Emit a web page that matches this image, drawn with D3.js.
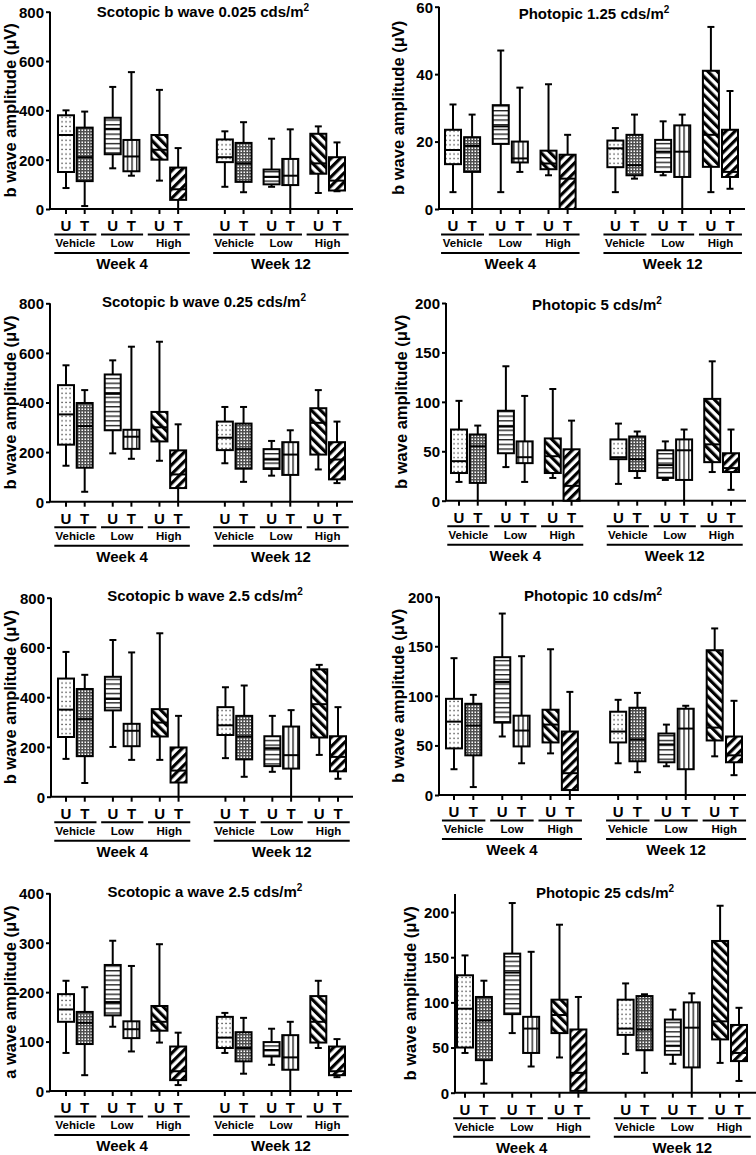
<!DOCTYPE html>
<html><head><meta charset="utf-8">
<script src="https://cdn.jsdelivr.net/npm/d3@7"></script>
<style>
body{margin:0;background:#fff}
svg{display:block}
text{font-family:"Liberation Sans",Arial,sans-serif;font-weight:bold;fill:#000}
</style>
</head><body>
<svg id="chart" width="756" height="1155"></svg>
<script>
// ---------- categories ----------
const weeks = ["Week 4", "Week 12"];
const groups = ["Vehicle", "Low", "High"];
const treatments = ["U", "T"];

// ---------- panel titles / axis ----------
const titles = [
  "Scotopic b wave 0.025 cds/m", "Photopic 1.25 cds/m",
  "Scotopic b wave 0.25 cds/m", "Photopic 5 cds/m",
  "Scotopic b wave 2.5 cds/m", "Photopic 10 cds/m",
  "Scotopic a wave 2.5 cds/m", "Photopic 25 cds/m"
];
const yLabels = [
  "b wave amplitude (\u03bcV)", "b wave amplitude (\u03bcV)",
  "b wave amplitude (\u03bcV)", "b wave amplitude (\u03bcV)",
  "b wave amplitude (\u03bcV)", "b wave amplitude (\u03bcV)",
  "a wave amplitude (\u03bcV)", "b wave amplitude (\u03bcV)"
];
const yMaxes = [800, 60, 800, 200, 800, 200, 400, 220];
const yTicks = [
  [0, 200, 400, 600, 800], [0, 20, 40, 60],
  [0, 200, 400, 600, 800], [0, 50, 100, 150, 200],
  [0, 200, 400, 600, 800], [0, 50, 100, 150, 200],
  [0, 100, 200, 300, 400], [0, 50, 100, 150, 200]
];

// ---------- box statistics: [min, q1, median, q3, max] ----------
// order: W4 Veh U, W4 Veh T, W4 Low U, W4 Low T, W4 High U, W4 High T, then same for W12
const scotopicB0025 = [
  [85,150,300,380,400],[12,113,210,330,395],[165,222,325,370,495],[135,153,213,280,555],
  [115,200,240,300,483],[0,37,80,168,247],
  [90,190,210,282,315],[68,110,185,268,352],[90,100,130,160,285],[0,97,135,203,323],
  [65,143,185,305,335],[72,75,115,210,270]
];
const photopic125 = [
  [5,13.3,17.5,23.5,31],[0,11,18.7,21.3,28],[5,19.3,24.5,30.8,47],[11,13.8,15,20,36],
  [10,11.8,13.5,17.3,37],[0,0,9,16.1,22],
  [5,12.4,18,20.3,24],[9,10,13,22,28],[10,11,17,20.5,26],[0,9.5,17,24.8,28],
  [5,12.5,22,41,54],[6,9.5,11,23.5,35]
];
const scotopicB025 = [
  [145,230,352,470,550],[40,137,305,398,450],[195,288,435,513,570],[173,213,262,290,625],
  [165,243,300,362,645],[0,55,110,207,312],
  [155,208,258,323,382],[80,133,212,315,382],[105,132,170,212,245],[0,108,190,240,288],
  [130,190,318,377,450],[75,90,170,240,323]
];
const photopic5 = [
  [19,28,40,72,101],[0,18,55,67,76],[34,48,75,91,136],[19,38,44,60,106],
  [23,28,45,63,113],[0,0,15,52,81],
  [17,42,44,62,78],[23,30,42,65,70],[21,23,36,51,60],[0,21,51,62,72],
  [29,39,57,103,141],[11,29,33,48,72]
];
const scotopicB25 = [
  [152,240,350,475,582],[55,163,312,433,490],[200,347,393,482,630],[148,203,265,293,580],
  [148,242,298,352,657],[0,57,105,198,325],
  [155,248,287,360,440],[80,150,242,325,447],[100,123,195,243,325],[0,113,167,282,348],
  [168,238,372,512,530],[72,102,160,243,360]
];
const photopic10 = [
  [26,47,74,97,138],[8,40,70,92,101],[59,73,114,139,183],[32,49,65,80,140],
  [42,53,71,86,147],[0,5,22,64,104],
  [32,53,64,84,96],[23,34,56,88,103],[29,33,51,62,71],[0,26,67,87,90],
  [39,55,68,146,168],[20,33,40,59,95]
];
const scotopicA25 = [
  [77,140,165,196,223],[32,95,138,160,210],[130,153,180,255,304],[80,107,125,141,253],
  [98,122,140,172,297],[12,22,40,90,118],
  [77,87,108,150,158],[35,60,87,119,148],[53,70,83,99,126],[0,43,68,113,140],
  [87,98,140,192,223],[28,32,40,90,105]
];
const photopic25 = [
  [44,50,93,130,152],[10,36,80,106,124],[66,87,133,154,210],[29,44,71,84,156],
  [39,66,86,103,186],[0,2,22,70,106],
  [43,64,71,103,121],[22,47,70,107,109],[32,42,52,81,92],[0,28,72,100,110],
  [33,59,79,168,207],[13,35,44,75,94]
];
const panelStats = [scotopicB0025, photopic125, scotopicB025, photopic5,
                    scotopicB25, photopic10, scotopicA25, photopic25];

// slot positions of the 12 boxes along the x axis (in slot units)
const slots = [0, 2, 5, 7, 10, 12, 17, 19, 22, 24, 27, 29];

// ---------- layout (pixels) ----------
const layout = [
  {axisX:50,  x0:66,  x1:337, yTop:11.7,  yZero:209,   xEnd:353, tx:203, ty:17,    lx:16},
  {axisX:439, x0:453, x1:730, yTop:6.7,   yZero:209,   xEnd:745, tx:594, ty:19,    lx:404},
  {axisX:50,  x0:66,  x1:337, yTop:303.3, yZero:501.7, xEnd:353, tx:204, ty:307,   lx:16},
  {axisX:446, x0:459, x1:731, yTop:303,   yZero:500.7, xEnd:746, tx:597, ty:310,   lx:407},
  {axisX:51,  x0:66,  x1:338, yTop:597.7, yZero:796.7, xEnd:353, tx:205, ty:600.7, lx:16},
  {axisX:439, x0:454, x1:734, yTop:596.7, yZero:795,   xEnd:746, tx:593, ty:600.7, lx:404},
  {axisX:50,  x0:66,  x1:337, yTop:893.3, yZero:1091,  xEnd:352, tx:205, ty:896.7, lx:16},
  {axisX:455, x0:465, x1:739, yTop:894,   yZero:1092.7,xEnd:756, tx:605, ty:898,   lx:416}
];

const svg = d3.select("#chart");
const defs = svg.append("defs");

// ---------- fill patterns ----------
// sparse dots
let p = defs.append("pattern").attr("id","dots").attr("patternUnits","userSpaceOnUse")
  .attr("width",4).attr("height",4.6);
p.append("rect").attr("x",1.4).attr("y",1.6).attr("width",1.3).attr("height",1.3).attr("fill","#333");
// dense checker
p = defs.append("pattern").attr("id","checker").attr("patternUnits","userSpaceOnUse")
  .attr("width",3).attr("height",3);
p.append("rect").attr("width",3).attr("height",3).attr("fill","#505050");
p.append("rect").attr("x",0.5).attr("y",0.5).attr("width",1.5).attr("height",1.5).attr("fill","#fff");
// horizontal lines
p = defs.append("pattern").attr("id","hlines").attr("patternUnits","userSpaceOnUse")
  .attr("width",10).attr("height",4.7);
p.append("rect").attr("x",0).attr("y",2).attr("width",10).attr("height",1.2).attr("fill","#000");
// vertical lines
p = defs.append("pattern").attr("id","vlines").attr("patternUnits","userSpaceOnUse")
  .attr("width",4.6).attr("height",10).attr("x",0.7);
p.append("rect").attr("x",2).attr("y",0).attr("width",1.2).attr("height",10).attr("fill","#000");
// backslash stripes
p = defs.append("pattern").attr("id","bslash").attr("patternUnits","userSpaceOnUse")
  .attr("width",6.5).attr("height",20).attr("patternTransform","rotate(-45)");
p.append("rect").attr("x",0).attr("y",0).attr("width",3.2).attr("height",20).attr("fill","#000");
// forward-slash stripes
p = defs.append("pattern").attr("id","fslash").attr("patternUnits","userSpaceOnUse")
  .attr("width",6.5).attr("height",20).attr("patternTransform","rotate(45)");
p.append("rect").attr("x",0).attr("y",0).attr("width",3.2).attr("height",20).attr("fill","#000");

const patternIds = [["dots","checker"],["hlines","vlines"],["bslash","fslash"]];

const BOX_W = 16, CAP_W = 7, SW = 2;

panelStats.forEach((stats, pi) => {
  const L = layout[pi];
  const g = svg.append("g");
  const x = d3.scaleLinear().domain([0, 29]).range([L.x0, L.x1]);
  const y = d3.scaleLinear().domain([0, yMaxes[pi]]).range([L.yZero, L.yTop]);

  // Y axis
  const yAxis = d3.axisLeft(y).tickValues(yTicks[pi]).tickSize(4).tickPadding(2).tickFormat(d3.format("d"));
  const ya = g.append("g").attr("transform", `translate(${L.axisX},0)`).call(yAxis);
  ya.select(".domain").attr("stroke","#000").attr("stroke-width",SW)
    .attr("d", `M0,${L.yZero}V${L.yTop}`);
  ya.selectAll(".tick line").attr("stroke","#000").attr("stroke-width",SW);
  ya.selectAll(".tick text").attr("font-size",15).attr("font-family",'"Liberation Sans",Arial,sans-serif')
    .attr("font-weight","bold").attr("fill","#000").attr("dy","0.36em");

  // X axis
  g.append("line").attr("x1",L.axisX - 1).attr("x2",L.xEnd).attr("y1",L.yZero).attr("y2",L.yZero)
    .attr("stroke","#000").attr("stroke-width",SW);
  g.selectAll(".xt").data(slots).join("line")
    .attr("x1",d=>x(d)).attr("x2",d=>x(d)).attr("y1",L.yZero).attr("y2",L.yZero+5)
    .attr("stroke","#000").attr("stroke-width",SW);

  // boxes
  const boxes = g.selectAll(".box").data(stats).join("g").attr("class","box");
  boxes.each(function(s, i){
    const bg = d3.select(this);
    const cx = x(slots[i]);
    const pat = patternIds[Math.floor(i/2) % 3][i % 2];
    const [mn, q1, md, q3, mx] = s;
    // whiskers
    bg.append("line").attr("x1",cx).attr("x2",cx).attr("y1",y(q3)).attr("y2",y(mx))
      .attr("stroke","#000").attr("stroke-width",SW);
    bg.append("line").attr("x1",cx).attr("x2",cx).attr("y1",y(q1)).attr("y2",y(mn))
      .attr("stroke","#000").attr("stroke-width",SW);
    bg.append("line").attr("x1",cx-CAP_W/2).attr("x2",cx+CAP_W/2).attr("y1",y(mx)).attr("y2",y(mx))
      .attr("stroke","#000").attr("stroke-width",SW);
    if (mn > 0) bg.append("line").attr("x1",cx-CAP_W/2).attr("x2",cx+CAP_W/2).attr("y1",y(mn)).attr("y2",y(mn))
      .attr("stroke","#000").attr("stroke-width",SW);
    // box body
    bg.append("rect").attr("x",cx-BOX_W/2).attr("y",y(q3)).attr("width",BOX_W).attr("height",Math.max(0,y(q1)-y(q3)))
      .attr("fill","#fff");
    bg.append("rect").attr("x",cx-BOX_W/2).attr("y",y(q3)).attr("width",BOX_W).attr("height",Math.max(0,y(q1)-y(q3)))
      .attr("fill",`url(#${pat})`).attr("stroke","#000").attr("stroke-width",SW);
    // median
    bg.append("line").attr("x1",cx-BOX_W/2).attr("x2",cx+BOX_W/2).attr("y1",y(md)).attr("y2",y(md))
      .attr("stroke","#000").attr("stroke-width",SW);
  });

  // U / T labels
  g.selectAll(".ut").data(slots).join("text")
    .attr("x",d=>x(d)).attr("y",L.yZero+22).attr("text-anchor","middle").attr("font-size",15)
    .text((d,i)=>treatments[i % 2]);

  // group lines and labels
  for (let w = 0; w < weeks.length; w++) {
    for (let gi = 0; gi < groups.length; gi++) {
      const k = w*6 + gi*2;
      const xa = x(slots[k] - 1.25), xb = x(slots[k+1] + 1.25);
      g.append("line").attr("x1",xa).attr("x2",xb).attr("y1",L.yZero+25.5).attr("y2",L.yZero+25.5)
        .attr("stroke","#000").attr("stroke-width",SW);
      g.append("text").attr("x",(xa+xb)/2).attr("y",L.yZero+38).attr("text-anchor","middle")
        .attr("font-size",11.5).text(groups[gi]);
    }
    const wa = x(slots[w*6] - 1.25), wb = x(slots[w*6+5] + 1.25);
    g.append("line").attr("x1",wa).attr("x2",wb).attr("y1",L.yZero+44).attr("y2",L.yZero+44)
      .attr("stroke","#000").attr("stroke-width",SW);
    g.append("text").attr("x",(wa+wb)/2).attr("y",L.yZero+60).attr("text-anchor","middle")
      .attr("font-size",15).text(weeks[w]);
  }

  // title with superscript 2
  const t = g.append("text").attr("x",L.tx).attr("y",L.ty).attr("text-anchor","middle").attr("font-size",15);
  t.append("tspan").text(titles[pi]);
  t.append("tspan").attr("font-size",10).attr("dy",-6).text("2");

  // y label
  g.append("text").attr("transform",`translate(${L.lx},${(L.yZero+L.yTop)/2}) rotate(-90)`)
    .attr("text-anchor","middle").attr("font-size",16.5).text(yLabels[pi]);
});
</script>
</body></html>
